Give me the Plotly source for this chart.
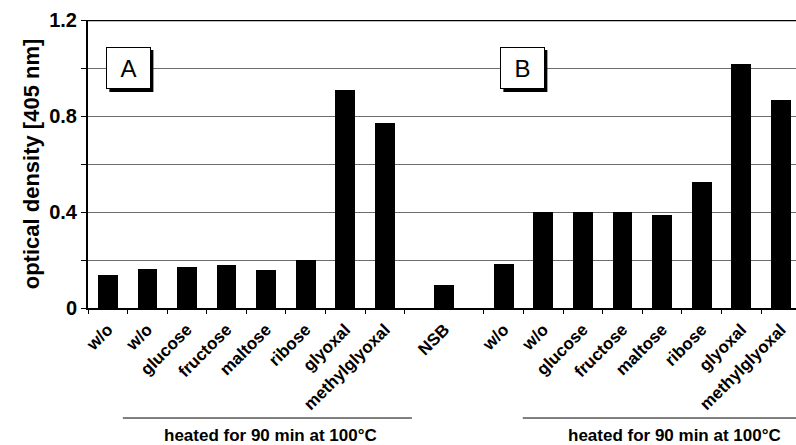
import plotly.graph_objects as go

# ---- data ----
labels_A = ["w/o", "w/o", "glucose", "fructose", "maltose", "ribose", "glyoxal", "methylglyoxal"]
values_A = [0.139, 0.164, 0.172, 0.179, 0.158, 0.200, 0.908, 0.771]
labels_nsb = ["NSB"]
values_nsb = [0.097]
labels_B = ["w/o", "w/o", "glucose", "fructose", "maltose", "ribose", "glyoxal", "methylglyoxal"]
values_B = [0.184, 0.398, 0.398, 0.401, 0.387, 0.524, 1.015, 0.868]
y_ticks = [0, 0.2, 0.4, 0.6, 0.8, 1.0, 1.2]
y_tick_text = ["0", "", "0.4", "", "0.8", "", "1.2"]
panel_labels = ["A", "B"]
group_note = "heated for 90 min at 100°C"

# slot positions (group A, then NSB between, then group B)
x_A = [i for i in range(len(labels_A))]
x_nsb = [len(labels_A) + 0.5]
x_B = [len(labels_A) + 2 + i for i in range(len(labels_B))]

xs = x_A + x_nsb + x_B
ys = values_A + values_nsb + values_B
labs = labels_A + labels_nsb + labels_B

boundaries = [v - 0.5 for v in x_A] + [x_A[-1] + 0.5] + [v - 0.5 for v in x_B]

FONT = "Liberation Sans, Arial, sans-serif"
XR = [-0.5, 17.38]

fig = go.Figure()
fig.add_trace(go.Bar(x=xs, y=ys, width=0.5, marker=dict(color="black", line=dict(width=0)),
                     showlegend=False, hoverinfo="skip"))
# invisible trace to activate tick-mark axis
fig.add_trace(go.Scatter(x=[XR[0]], y=[0], xaxis="x2", mode="markers",
                         marker=dict(opacity=0), showlegend=False, hoverinfo="skip"))

fig.update_layout(
    width=796, height=445,
    margin=dict(l=88, r=0, t=20, b=137),
    paper_bgcolor="white", plot_bgcolor="white",
    font=dict(family=FONT, color="black"),
    xaxis=dict(range=XR, tickvals=xs, ticktext=labs, tickangle=-45, ticks="",
               automargin=False, ticklabelstandoff=3,
               tickfont=dict(size=17, family=FONT, weight="bold"),
               showline=True, linecolor="black", linewidth=2, showgrid=False, zeroline=False),
    xaxis2=dict(range=XR, overlaying="x", anchor="y", side="bottom", tickvals=boundaries,
                ticks="outside", ticklen=5, tickcolor="black", tickwidth=1, automargin=False,
                showticklabels=False, showgrid=False, zeroline=False, showline=False),
    yaxis=dict(range=[0, 1.2], tickvals=y_ticks, ticktext=y_tick_text, automargin=False,
               ticks="outside", ticklen=5, tickcolor="black",
               tickfont=dict(size=20, family=FONT, weight="bold"),
               showline=True, linecolor="black", linewidth=2,
               showgrid=True, gridcolor="#6e6e6e", gridwidth=1, zeroline=False,
               title=dict(text="optical density [405 nm]", standoff=3,
                          font=dict(size=22, family=FONT, weight="bold"))),
    bargap=0,
)

# top border
fig.add_shape(type="line", xref="paper", yref="y", x0=0, x1=1, y0=1.2, y1=1.2,
              line=dict(color="black", width=2.5))

# panel boxes with shadows
for lab, cx in zip(panel_labels, [0.52, 10.47]):
    fig.add_shape(type="rect", xref="x", yref="y", xsizemode="pixel", ysizemode="pixel",
                  xanchor=cx, yanchor=1.0, x0=-19, x1=25, y0=-24, y1=18,
                  fillcolor="black", line=dict(width=0))
    fig.add_annotation(x=cx, y=1.0, xref="x", yref="y", text=lab, showarrow=False,
                       width=41, height=38, bgcolor="white", bordercolor="black",
                       borderwidth=1, borderpad=1, font=dict(size=24, family=FONT))

# group notes
for x0, x1, xc in [(0.38, 7.68, 4.12), (10.48, 17.5, 14.3)]:
    fig.add_shape(type="line", xref="x", yref="paper", x0=x0, x1=x1, y0=-0.382, y1=-0.382,
                  line=dict(color="black", width=1))
    fig.add_annotation(x=xc, y=-0.442, xref="x", yref="paper", text=group_note,
                       showarrow=False, yanchor="middle",
                       font=dict(size=17, family=FONT, weight="bold"))

fig.write_html("out.html", config={"displayModeBar": False},
               post_script="document.body.style.margin='0px';document.body.style.padding='0px';"
                           "document.documentElement.style.overflow='hidden';")
